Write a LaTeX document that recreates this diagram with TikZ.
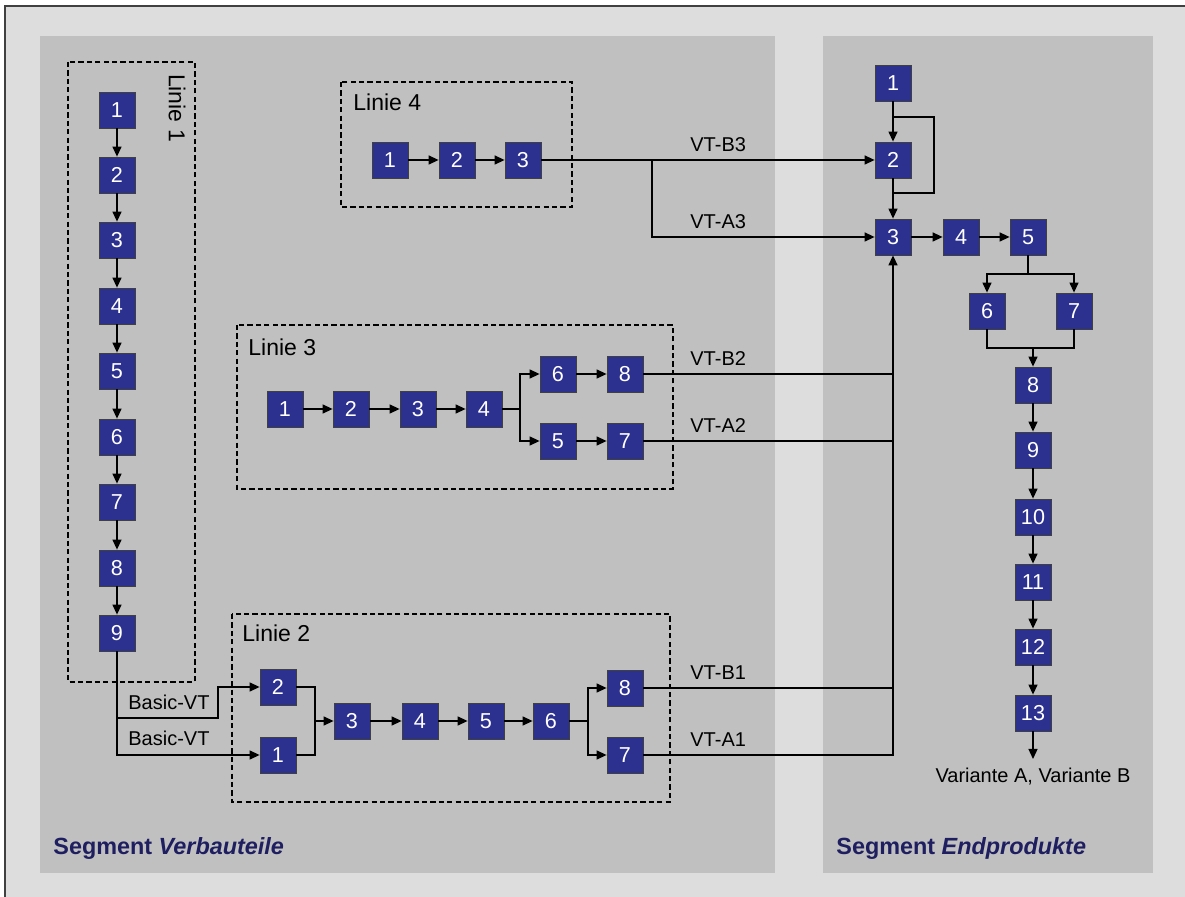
\documentclass[tikz,border=0pt]{standalone}
\usepackage{fontspec}
\setmainfont{Liberation Sans}
\usepackage{tikz}
\usetikzlibrary{positioning, calc, arrows.meta}
\definecolor{boxblue}{RGB}{44,48,142}
\definecolor{segnavy}{RGB}{30,30,96}
\definecolor{bglight}{RGB}{221,221,221}
\definecolor{bgpanel}{RGB}{192,192,192}

\begin{document}
\begin{tikzpicture}[
        x=0.5pt, y=-0.5pt,
        station/.style={rectangle, draw=black!75, line width=0.4pt, fill=boxblue, text=white, minimum size=18pt, inner sep=0pt, font=\fontsize{10.8}{12}\selectfont},
        linebox/.style={draw=black, line width=0.6pt, dash pattern=on 2.6pt off 1.6pt},
        linelabel/.style={font=\fontsize{11.5}{13}\selectfont, inner sep=0pt},
        vtlabel/.style={font=\fontsize{10}{12}\selectfont, inner sep=0pt, anchor=base west},
        seglabel/.style={font=\fontsize{11.7}{14}\selectfont\bfseries, text=segnavy, inner sep=0pt, anchor=base west},
        flow/.style={line width=0.65pt},
        arr/.style={flow, -{Triangle[length=5pt, width=4.5pt]}}
    ]
        \useasboundingbox (0,0) rectangle (1185,897);
        % Background and segments
        \fill[white] (0,0) rectangle (1185,897);
        \fill[bglight] (5,6) rectangle (1185,897);
        \draw[black!75, line width=1pt] (5,897) -- (5,6) -- (1185,6);
        \fill[bgpanel] (40,36) rectangle (775,873);
        \fill[bgpanel] (823,36) rectangle (1153,873);
        \node[seglabel] (segV) at (53,855) {Segment \textit{Verbauteile}};
        \node[seglabel] (segE) at (836,855) {Segment \textit{Endprodukte}};

        % Linie 1
        \draw[linebox] (68,62) rectangle (195,682);
        \node[linelabel, rotate=-90] (lab1) at (177,108) {Linie 1};
        \node[station] (l1n1) at (117,110) {1};
        \node[station] (l1n2) at (117,175) {2};
        \node[station] (l1n3) at (117,240) {3};
        \node[station] (l1n4) at (117,306) {4};
        \node[station] (l1n5) at (117,371) {5};
        \node[station] (l1n6) at (117,437) {6};
        \node[station] (l1n7) at (117,502) {7};
        \node[station] (l1n8) at (117,568) {8};
        \node[station] (l1n9) at (117,633) {9};
        \draw[arr] (l1n1) -- (l1n2);
        \draw[arr] (l1n2) -- (l1n3);
        \draw[arr] (l1n3) -- (l1n4);
        \draw[arr] (l1n4) -- (l1n5);
        \draw[arr] (l1n5) -- (l1n6);
        \draw[arr] (l1n6) -- (l1n7);
        \draw[arr] (l1n7) -- (l1n8);
        \draw[arr] (l1n8) -- (l1n9);

        % Linie 4
        \draw[linebox] (341,82) rectangle (572,207);
        \node[linelabel, anchor=base west] (lab4) at (353,111) {Linie 4};
        \node[station] (l4n1) at (390,160) {1};
        \node[station] (l4n2) at (457,160) {2};
        \node[station] (l4n3) at (523,160) {3};
        \draw[arr] (l4n1) -- (l4n2);
        \draw[arr] (l4n2) -- (l4n3);

        % Linie 3
        \draw[linebox] (237,325) rectangle (673,489);
        \node[linelabel, anchor=base west] (lab3) at (248,356) {Linie 3};
        \node[station] (l3n1) at (285,409) {1};
        \node[station] (l3n2) at (351,409) {2};
        \node[station] (l3n3) at (418,409) {3};
        \node[station] (l3n4) at (484,409) {4};
        \node[station] (l3n6) at (558,374) {6};
        \node[station] (l3n8) at (625,374) {8};
        \node[station] (l3n5) at (558,441) {5};
        \node[station] (l3n7) at (625,441) {7};
        \coordinate (l3split) at (520,409);
        \draw[arr] (l3n1) -- (l3n2);
        \draw[arr] (l3n2) -- (l3n3);
        \draw[arr] (l3n3) -- (l3n4);
        \draw[flow] (l3n4.east) -- (l3split);
        \draw[arr] (l3split) |- (l3n6.west);
        \draw[arr] (l3split) |- (l3n5.west);
        \draw[arr] (l3n6) -- (l3n8);
        \draw[arr] (l3n5) -- (l3n7);

        % Linie 2
        \draw[linebox] (232,614) rectangle (670,802);
        \node[linelabel, anchor=base west] (lab2) at (242,642) {Linie 2};
        \node[station] (l2n2) at (278,687) {2};
        \node[station] (l2n1) at (278,755) {1};
        \node[station] (l2n3) at (352,721) {3};
        \node[station] (l2n4) at (420,721) {4};
        \node[station] (l2n5) at (486,721) {5};
        \node[station] (l2n6) at (551,721) {6};
        \node[station] (l2n8) at (625,688) {8};
        \node[station] (l2n7) at (625,755) {7};
        \coordinate (l2merge) at (315,721);
        \coordinate (l2split) at (588,721);
        \draw[flow] (l2n2.east) -| (l2merge);
        \draw[flow] (l2n1.east) -| (l2merge);
        \draw[arr] (l2merge) -- (l2n3.west);
        \draw[arr] (l2n3) -- (l2n4);
        \draw[arr] (l2n4) -- (l2n5);
        \draw[arr] (l2n5) -- (l2n6);
        \draw[flow] (l2n6.east) -- (l2split);
        \draw[arr] (l2split) |- (l2n8.west);
        \draw[arr] (l2split) |- (l2n7.west);

        % Basic-VT from Linie 1
        \coordinate (bvt1) at (117,718);
        \coordinate (bvt2) at (218,718);
        \draw[arr] (l1n9.south) |- (l2n1.west);
        \draw[arr] (bvt1) -- (bvt2) |- (l2n2.west);
        \node[vtlabel] (bvtA) at (128,710) {Basic-VT};
        \node[vtlabel] (bvtB) at (128,746) {Basic-VT};

        % Segment Endprodukte
        \node[station] (e1) at (893,83) {1};
        \node[station] (e2) at (893,160) {2};
        \node[station] (e3) at (893,237) {3};
        \node[station] (e4) at (961,237) {4};
        \node[station] (e5) at (1028,237) {5};
        \node[station] (e6) at (987,311) {6};
        \node[station] (e7) at (1074,311) {7};
        \node[station] (e8) at (1033,385) {8};
        \node[station] (e9) at (1033,450) {9};
        \node[station] (e10) at (1033,517) {10};
        \node[station] (e11) at (1033,582) {11};
        \node[station] (e12) at (1033,647) {12};
        \node[station] (e13) at (1033,713) {13};
        \coordinate (byp1) at (934,117);
        \coordinate (byp2) at (934,193);
        \coordinate (e5split) at (1028,274);
        \coordinate (e8merge) at (1033,348);
        \coordinate (out) at (1033,759);
        \draw[arr] (e1) -- (e2);
        \draw[arr] (e2) -- (e3);
        \draw[flow] (e1.south |- byp1) -- (byp1) -- (byp2) -- (e2.south |- byp2);
        \draw[arr] (e3) -- (e4);
        \draw[arr] (e4) -- (e5);
        \draw[flow] (e5.south) -- (e5split);
        \draw[arr] (e5split) -| (e6.north);
        \draw[arr] (e5split) -| (e7.north);
        \draw[flow] (e6.south) |- (e8merge) -| (e7.south);
        \draw[arr] (e8merge) -- (e8.north);
        \draw[arr] (e8) -- (e9);
        \draw[arr] (e9) -- (e10);
        \draw[arr] (e10) -- (e11);
        \draw[arr] (e11) -- (e12);
        \draw[arr] (e12) -- (e13);
        \draw[arr] (e13.south) -- (out);
        \node[font=\fontsize{10}{12}\selectfont, inner sep=0pt, anchor=base] (variant) at (1033,783) {Variante A, Variante B};

        % Verbauteile to Endprodukte
        \coordinate (l4split) at (652,160);
        \draw[arr] (l4n3.east) -- (e2.west);
        \draw[arr] (l4split) |- (e3.west);
        \draw[arr] (l2n7.east) -| (e3.south);
        \draw[flow] (l2n8.east) -- (l2n8.east -| e3.south);
        \draw[flow] (l3n8.east) -- (l3n8.east -| e3.south);
        \draw[flow] (l3n7.east) -- (l3n7.east -| e3.south);
        \node[vtlabel] (vtb3) at (690,152) {VT-B3};
        \node[vtlabel] (vta3) at (690,229) {VT-A3};
        \node[vtlabel] (vtb2) at (690,366) {VT-B2};
        \node[vtlabel] (vta2) at (690,433) {VT-A2};
        \node[vtlabel] (vtb1) at (690,680) {VT-B1};
        \node[vtlabel] (vta1) at (690,747) {VT-A1};
    \end{tikzpicture}
\end{document}
